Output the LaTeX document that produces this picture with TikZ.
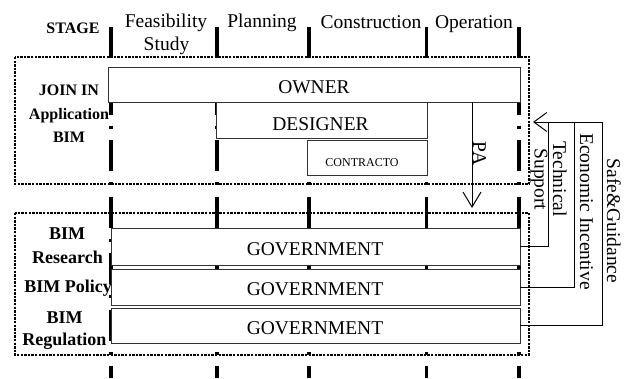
\documentclass[tikz,border=0pt]{standalone}
\usepackage{fontspec}
\setmainfont{Liberation Serif}
\usetikzlibrary{arrows.meta}
\begin{document}
\begin{tikzpicture}[x=1pt,y=-1pt,
  stageline/.style={line width=3.5pt, dash pattern=on 31pt off 11pt on 3pt off 11.5pt},
  zone/.style={line width=2.4pt, dash pattern=on 2.4pt off 1.2pt},
  bar/.style={draw=black!80, line width=0.9pt, fill=white, inner sep=0pt, anchor=north west},
  bartext/.style={font=\fontsize{19.5}{20}\selectfont, inner sep=0pt, anchor=base},
  smalltext/.style={font=\fontsize{12}{14}\selectfont, inner sep=0pt, anchor=base},
  toplabel/.style={font=\bfseries\fontsize{16}{18}\selectfont, inner sep=0pt, anchor=base},
  lowlabel/.style={font=\bfseries\fontsize{18}{20}\selectfont, inner sep=0pt, anchor=base},
  sidetext/.style={font=\fontsize{19.5}{20}\selectfont, inner sep=0pt, anchor=base, rotate=-90},
  link/.style={line width=1pt},
  fbarrow/.style={line width=1pt, -{Straight Barb[length=13pt,width=19pt,line width=1pt]}},
  paarrow/.style={line width=1pt, -{Straight Barb[length=15pt,width=18pt,line width=1pt]}}
]
\useasboundingbox (0,0) rectangle (627,378);

% stage boundaries
\foreach \sx in {111,217,309,426.5,519}
  \draw[stageline] (\sx,27) -- (\sx,378);

% participation and government zones
\draw[zone] (15,57) rectangle (529,184);
\draw[zone] (15,213) rectangle (529,355);

% stage headers
\node[toplabel] (stage) at (73,33) {STAGE};
\node[bartext] (feas) at (166,27) {Feasibility};
\node[bartext] (study) at (166.5,50) {Study};
\node[bartext] (plan) at (262,27) {Planning};
\node[bartext] (constr) at (371,28) {Construction};
\node[bartext] (oper) at (474,28) {Operation};

% participants
\node[bar, minimum width=411.5pt, minimum height=35pt] (owner) at (108,67) {};
\node[bar, minimum width=211pt, minimum height=36pt] (designer) at (216,102) {};
\node[bar, minimum width=120pt, minimum height=35pt] (contractor) at (307,140) {};
\node[bartext] (ownerlbl) at (314,93) {OWNER};
\node[bartext] (designerlbl) at (320.5,130) {DESIGNER};
\node[smalltext] (contractorlbl) at (362,166) {CONTRACTO};

% government bars
\node[bar, minimum width=409pt, minimum height=37pt] (gov1) at (110.5,228) {};
\node[bar, minimum width=409pt, minimum height=36pt] (gov2) at (110.5,269) {};
\node[bar, minimum width=409pt, minimum height=35pt] (gov3) at (110.5,308) {};
\node[bartext] (gov1lbl) at (315,255) {GOVERNMENT};
\node[bartext] (gov2lbl) at (315,295) {GOVERNMENT};
\node[bartext] (gov3lbl) at (315,334) {GOVERNMENT};

% row labels
\node[toplabel] (joinin) at (69,95) {JOIN IN};
\node[toplabel] (application) at (69,119) {Application};
\node[toplabel] (bimtop) at (69,142) {BIM};
\node[lowlabel] (bimres) at (67,239) {BIM};
\node[lowlabel] (research) at (67.5,263) {Research};
\node[lowlabel] (policy) at (68,292) {BIM Policy};
\node[lowlabel] (bimreg) at (64.5,323) {BIM};
\node[lowlabel] (regulation) at (64.5,345) {Regulation};

% PA arrow from owner down to government
\coordinate (pastart) at (472,102);
\coordinate (paend) at (472,208);
\draw[paarrow] (pastart) -- (paend);
\node[sidetext] (palbl) at (473,153.5) {PA};

% feedback from government to the participants
\coordinate (techtop) at (548.5,122);
\coordinate (econtop) at (574.5,122);
\coordinate (safetop) at (602,122);
\coordinate (fbtip) at (533,122);
\draw[link] (gov1.east) -| (techtop);
\draw[link] (gov2.east) -| (econtop);
\draw[fbarrow] (gov3.east) -| (safetop) -- (fbtip);

\node[sidetext] (techlbl) at (553,179) {Technical};
\node[sidetext] (supportlbl) at (534.5,179.5) {Support};
\node[sidetext] (econlbl) at (580,211.5) {Economic Incentive};
\node[sidetext] (safelbl) at (607,221) {Safe\&Guidance};
\end{tikzpicture}
\end{document}
